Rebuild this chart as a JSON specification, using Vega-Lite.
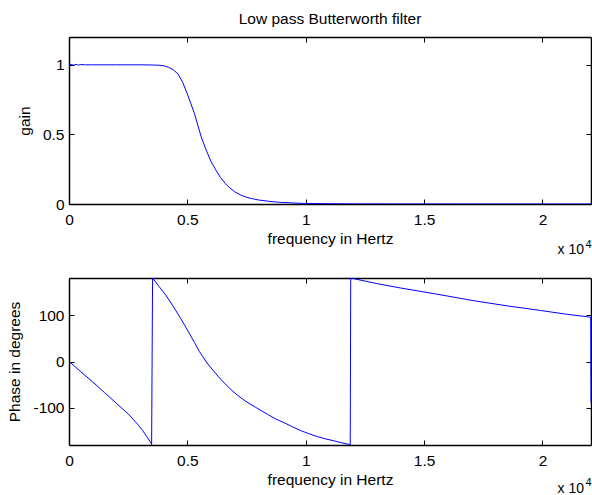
{
  "$schema": "https://vega.github.io/schema/vega-lite/v6.json",
  "background": "white",
  "padding": {"left": 7, "top": 12, "right": 0, "bottom": 0},
  "spacing": 74,
  "bounds": "flush",
  "datasets": {
    "gain": [
      {"f": 0, "g": 1.0}, {"f": 100, "g": 1.003}, {"f": 200, "g": 0.997}, {"f": 300, "g": 1.004},
      {"f": 400, "g": 0.998}, {"f": 500, "g": 1.002}, {"f": 700, "g": 1.0}, {"f": 1000, "g": 1.0},
      {"f": 2000, "g": 1.0}, {"f": 3000, "g": 1.0}, {"f": 3500, "g": 0.999}, {"f": 3800, "g": 0.997},
      {"f": 4000, "g": 0.993}, {"f": 4200, "g": 0.983}, {"f": 4400, "g": 0.965}, {"f": 4600, "g": 0.935},
      {"f": 4800, "g": 0.875}, {"f": 5000, "g": 0.79}, {"f": 5150, "g": 0.72}, {"f": 5300, "g": 0.65},
      {"f": 5450, "g": 0.56}, {"f": 5600, "g": 0.475}, {"f": 5800, "g": 0.385}, {"f": 6000, "g": 0.305},
      {"f": 6200, "g": 0.245}, {"f": 6400, "g": 0.19}, {"f": 6600, "g": 0.148}, {"f": 6800, "g": 0.114},
      {"f": 7000, "g": 0.088}, {"f": 7250, "g": 0.065}, {"f": 7500, "g": 0.048}, {"f": 7750, "g": 0.038},
      {"f": 8000, "g": 0.029}, {"f": 8500, "g": 0.018}, {"f": 9000, "g": 0.011}, {"f": 9500, "g": 0.007},
      {"f": 10000, "g": 0.004}, {"f": 11000, "g": 0.002}, {"f": 12000, "g": 0.001}, {"f": 14000, "g": 0.0005},
      {"f": 17000, "g": 0.0002}, {"f": 22050, "g": 0.0}
    ],
    "phase": [
      {"f": 0, "p": 0}, {"f": 500, "p": -22}, {"f": 1000, "p": -44}, {"f": 1500, "p": -67},
      {"f": 2000, "p": -90}, {"f": 2500, "p": -113}, {"f": 2700, "p": -124}, {"f": 2900, "p": -135.5},
      {"f": 3100, "p": -148}, {"f": 3300, "p": -163}, {"f": 3460, "p": -175.5}, {"f": 3490, "p": -179.5},
      {"f": 3530, "p": 180}, {"f": 3800, "p": 162},
      {"f": 4090, "p": 143}, {"f": 4400, "p": 119}, {"f": 4655, "p": 98}, {"f": 4900, "p": 77},
      {"f": 5100, "p": 59}, {"f": 5300, "p": 41}, {"f": 5500, "p": 22}, {"f": 5800, "p": -1},
      {"f": 6065, "p": -18}, {"f": 6400, "p": -38}, {"f": 6765, "p": -57}, {"f": 7100, "p": -72},
      {"f": 7470, "p": -86}, {"f": 7890, "p": -99}, {"f": 8385, "p": -114}, {"f": 8700, "p": -123},
      {"f": 9085, "p": -132}, {"f": 9450, "p": -141}, {"f": 9790, "p": -149}, {"f": 10150, "p": -156},
      {"f": 10495, "p": -162}, {"f": 10850, "p": -167}, {"f": 11195, "p": -171}, {"f": 11500, "p": -175},
      {"f": 11860, "p": -179}, {"f": 11880, "p": -180}, {"f": 11900, "p": 180}, {"f": 13000, "p": 168},
      {"f": 14000, "p": 158.5}, {"f": 14990, "p": 150}, {"f": 16000, "p": 141}, {"f": 17100, "p": 131},
      {"f": 18500, "p": 120}, {"f": 19920, "p": 110}, {"f": 21000, "p": 102}, {"f": 21960, "p": 96},
      {"f": 22040, "p": 95}, {"f": 22050, "p": -88}
    ],
    "exp": [{"base": "x 10", "power": "4"}]
  },
  "vconcat": [
    {
      "width": 522,
      "height": 167,
      "title": {"text": "Low pass Butterworth filter", "fontSize": 15.5, "fontWeight": "normal", "font": "Liberation Sans", "color": "#000000", "anchor": "middle", "frame": "group", "baseline": "alphabetic", "offset": -3},
      "layer": [
        {
          "data": {"name": "gain"},
          "mark": {"type": "line", "color": "#0000ff", "strokeWidth": 1, "clip": true},
          "encoding": {
            "x": {"field": "f", "type": "quantitative", "scale": {"domain": [0, 22050], "nice": false, "zero": false},
                  "axis": {"orient": "bottom", "values": [0, 5000, 10000, 15000, 20000], "labelExpr": "datum.value / 10000 + ''", "title": "frequency in Hertz"}},
            "y": {"field": "g", "type": "quantitative", "scale": {"domain": [0, 1.2], "nice": false},
                  "axis": {"orient": "left", "values": [0, 0.5, 1], "labelExpr": "datum.value + ''", "title": "gain"}}
          }
        },
        {
          "data": {"name": "exp"},
          "mark": {"type": "text", "align": "right", "baseline": "bottom", "dx": -7, "dy": 53, "fontSize": 14, "font": "Liberation Sans", "color": "#000000"},
          "encoding": {
            "text": {"field": "base"},
            "x": {"datum": 22050, "type": "quantitative", "axis": {"orient": "top", "labels": false, "labelPadding": 0, "titlePadding": 0, "title": null, "values": [0, 5000, 10000, 15000, 20000]}},
            "y": {"datum": 0, "type": "quantitative", "axis": {"orient": "right", "labels": false, "labelPadding": 0, "titlePadding": 0, "title": null, "values": [0, 0.5, 1]}}
          }
        },
        {
          "data": {"name": "exp"},
          "mark": {"type": "text", "align": "left", "baseline": "alphabetic", "dx": -5.5, "dy": 43.5, "fontSize": 11, "font": "Liberation Sans", "color": "#000000"},
          "encoding": {
            "text": {"field": "power"},
            "x": {"datum": 22050, "type": "quantitative", "axis": null},
            "y": {"datum": 0, "type": "quantitative", "axis": null}
          }
        }
      ],
      "resolve": {"axis": {"x": "independent", "y": "independent"}}
    },
    {
      "width": 522,
      "height": 167,
      "layer": [
        {
          "data": {"name": "phase"},
          "mark": {"type": "line", "color": "#0000ff", "strokeWidth": 1, "clip": true},
          "encoding": {
            "x": {"field": "f", "type": "quantitative", "scale": {"domain": [0, 22050], "nice": false, "zero": false},
                  "axis": {"orient": "bottom", "values": [0, 5000, 10000, 15000, 20000], "labelExpr": "datum.value / 10000 + ''", "title": "frequency in Hertz"}},
            "y": {"field": "p", "type": "quantitative", "scale": {"domain": [-180, 180], "nice": false, "zero": false},
                  "axis": {"orient": "left", "values": [-100, 0, 100], "labelExpr": "datum.value + ''", "title": "Phase in degrees"}}
          }
        },
        {
          "data": {"name": "exp"},
          "mark": {"type": "text", "align": "right", "baseline": "bottom", "dx": -7, "dy": 51, "fontSize": 14, "font": "Liberation Sans", "color": "#000000"},
          "encoding": {
            "text": {"field": "base"},
            "x": {"datum": 22050, "type": "quantitative", "axis": {"orient": "top", "labels": false, "labelPadding": 0, "titlePadding": 0, "title": null, "values": [0, 5000, 10000, 15000, 20000]}},
            "y": {"datum": -180, "type": "quantitative", "axis": {"orient": "right", "labels": false, "labelPadding": 0, "titlePadding": 0, "title": null, "values": [-100, 0, 100]}}
          }
        },
        {
          "data": {"name": "exp"},
          "mark": {"type": "text", "align": "left", "baseline": "alphabetic", "dx": -5.5, "dy": 41, "fontSize": 11, "font": "Liberation Sans", "color": "#000000"},
          "encoding": {
            "text": {"field": "power"},
            "x": {"datum": 22050, "type": "quantitative", "axis": null},
            "y": {"datum": -180, "type": "quantitative", "axis": null}
          }
        }
      ],
      "resolve": {"axis": {"x": "independent", "y": "independent"}}
    }
  ],
  "config": {
    "font": "Liberation Sans",
    "view": {"stroke": null},
    "axis": {
      "grid": false,
      "domainColor": "#000000",
      "domainWidth": 1.5,
      "tickColor": "#000000",
      "tickWidth": 1,
      "tickSize": -5,
      "labelFont": "Liberation Sans",
      "labelFontSize": 15.5,
      "labelColor": "#000000",
      "titleFont": "Liberation Sans",
      "titleFontSize": 15.5,
      "titleFontWeight": "normal",
      "titleColor": "#000000",
      "labelFlush": false,
      "labelOverlap": false
    },
    "axisX": {"labelPadding": 13.75, "titlePadding": 3.5},
    "axisY": {"labelPadding": 10, "titlePadding": 10}
  }
}
